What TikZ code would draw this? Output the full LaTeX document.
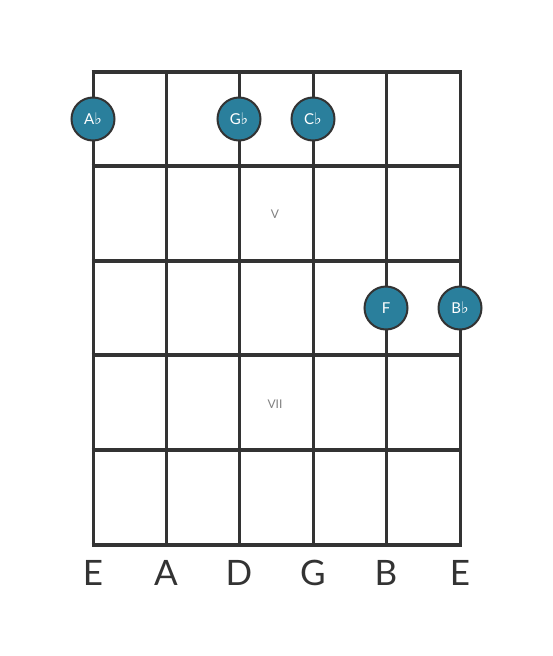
\documentclass[tikz,border=0pt]{standalone}
\usepackage{fontspec}
\setmainfont{Lato}
\newfontfamily\flatfont{DejaVu Sans}
\usetikzlibrary{positioning}
\definecolor{notefill}{HTML}{2A7F9C}
\definecolor{gridgray}{HTML}{333333}
\newcommand{\fl}{{\flatfont\fontsize{16pt}{16pt}\selectfont ♭}}
\begin{document}
\begin{tikzpicture}[x=1pt,y=-1pt,
  note/.style={draw=gridgray, line width=2pt, circle, fill=notefill, minimum size=43pt, inner sep=0pt, text=white, font=\fontsize{15pt}{15pt}\selectfont},
  fretlabel/.style={text=gray, font=\fontsize{12pt}{12pt}\selectfont},
  strlabel/.style={text=gridgray, font=\fontsize{35pt}{35pt}\selectfont}]
\useasboundingbox (0,0) rectangle (553,656);
% strings
\foreach \x in {93,166,239,313,386,460}
  \draw[gridgray, line width=3pt] (\x,72) -- (\x,545);
% frets
\foreach \y in {72,166,261,355,450,545}
  \draw[gridgray, line width=4.5pt] (91.5,\y) -- (461.5,\y);
% fret numbers
\node[fretlabel] (F5) at (275,214) {V};
\node[fretlabel] (F7) at (275,404) {VII};
% notes
\node[note] (N1) at (93,119) {A\fl};
\node[note] (N2) at (239,119) {G\fl};
\node[note] (N3) at (313,119) {C\fl};
\node[note] (N4) at (386,308) {F};
\node[note] (N5) at (460,308) {B\fl};
% string names
\node[strlabel] (S1) at (93,573) {E};
\node[strlabel] (S2) at (166,573) {A};
\node[strlabel] (S3) at (239,573) {D};
\node[strlabel] (S4) at (313,573) {G};
\node[strlabel] (S5) at (386,573) {B};
\node[strlabel] (S6) at (460,573) {E};
\end{tikzpicture}
\end{document}
